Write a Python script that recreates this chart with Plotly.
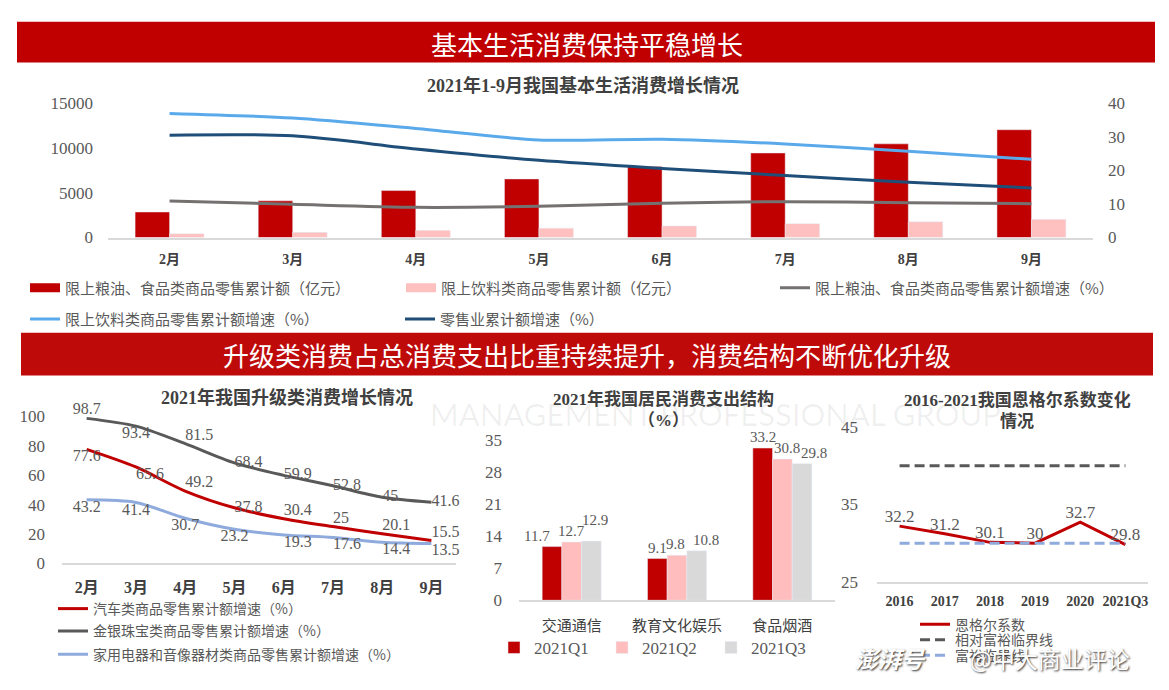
import plotly.graph_objects as go

W, H = 1169, 690
def fx(p):
    return p / W
def fy(p):
    return 1 - p / H

SERIF = "Liberation Serif, Noto Sans CJK SC, serif"
CJK = "Noto Sans CJK SC, sans-serif"
GREY_T = "#595959"
DARK_T = "#404040"
RED = "#C00000"

# ---------------- data ----------------
months = ["2月", "3月", "4月", "5月", "6月", "7月", "8月", "9月"]
grain_sales = [2850, 4100, 5250, 6550, 7950, 9450, 10470, 12050]
drink_sales = [420, 580, 800, 1050, 1300, 1550, 1750, 2030]
grain_growth = [10.9, 9.9, 9.0, 9.3, 10.2, 10.7, 10.4, 10.1]
drink_growth = [37.0, 35.6, 32.5, 29.1, 29.3, 27.9, 25.7, 23.3]
retail_growth = [30.5, 30.3, 26.4, 23.0, 20.6, 18.5, 16.5, 14.8]

auto_growth = [77.6, 65.6, 49.2, 37.8, 30.4, 25, 20.1, 15.5]
jewel_growth = [98.7, 93.4, 81.5, 68.4, 59.9, 52.8, 45, 41.6]
appliance_growth = [43.2, 41.4, 30.7, 23.2, 19.3, 17.6, 14.4, 13.5]

spend_cats = ["交通通信", "教育文化娱乐", "食品烟酒"]
spend_q1 = [11.7, 9.1, 33.2]
spend_q2 = [12.7, 9.8, 30.8]
spend_q3 = [12.9, 10.8, 29.8]

engel_years = ["2016", "2017", "2018", "2019", "2020", "2021Q3"]
engel_coef = [32.2, 31.2, 30.1, 30, 32.7, 29.8]
relative_rich_line = [40, 40, 40, 40, 40, 40]
rich_line = [30, 30, 30, 30, 30, 30]

fig = go.Figure()

# ---------------- top chart ----------------
fig.add_bar(x=months, y=grain_sales, marker_color=RED, xaxis="x", yaxis="y",
            showlegend=False, name="限上粮油、食品类商品零售累计额（亿元）")
fig.add_bar(x=months, y=drink_sales, marker_color="#FFC0C0", xaxis="x", yaxis="y",
            showlegend=False, name="限上饮料类商品零售累计额（亿元）")
# legend entries for the bar series (rectangular symbols)
fig.add_scatter(x=[None], y=[None], mode="lines", line=dict(color=RED, width=9),
                name="限上粮油、食品类商品零售累计额（亿元）", xaxis="x", yaxis="y", legend="legend")
fig.add_scatter(x=[None], y=[None], mode="lines", line=dict(color="#FFC0C0", width=9),
                name="限上饮料类商品零售累计额（亿元）", xaxis="x", yaxis="y", legend="legend2")

fig.add_scatter(x=months, y=grain_growth, mode="lines", xaxis="x", yaxis="y2",
                line=dict(color="#767171", width=3, shape="spline", smoothing=0.8),
                name="限上粮油、食品类商品零售累计额增速（%）", legend="legend3")
fig.add_scatter(x=months, y=drink_growth, mode="lines", xaxis="x", yaxis="y2",
                line=dict(color="#5AAAEB", width=3, shape="spline", smoothing=0.8),
                name="限上饮料类商品零售累计额增速（%）", legend="legend4")
fig.add_scatter(x=months, y=retail_growth, mode="lines", xaxis="x", yaxis="y2",
                line=dict(color="#1F4E79", width=3, shape="spline", smoothing=0.8),
                name="零售业累计额增速（%）", legend="legend5")

# ---------------- bottom-left chart ----------------
lbl_font = dict(family=SERIF, size=16, color=GREY_T)
fig.add_scatter(x=months, y=auto_growth, mode="lines+text", xaxis="x3", yaxis="y3",
                text=[str(v) for v in auto_growth], cliponaxis=False,
                textposition=["bottom center", "bottom right", "top right", "middle right",
                              "top right", "top right", "top right", "top right"],
                textfont=lbl_font,
                line=dict(color=RED, width=3, shape="spline", smoothing=0.8),
                name="汽车类商品零售累计额增速（%）", legend="legend6")
fig.add_scatter(x=months, y=jewel_growth, mode="lines+text", xaxis="x3", yaxis="y3",
                text=[str(v) for v in jewel_growth], cliponaxis=False,
                textposition=["top center", "bottom center", "top right", "middle right",
                              "middle right", "middle right", "middle right", "middle right"],
                textfont=lbl_font,
                line=dict(color="#595959", width=3, shape="spline", smoothing=0.8),
                name="金银珠宝类商品零售累计额增速（%）", legend="legend7")
fig.add_scatter(x=months, y=appliance_growth, mode="lines+text", xaxis="x3", yaxis="y3",
                text=[str(v) for v in appliance_growth], cliponaxis=False,
                textposition=["bottom center", "bottom center", "bottom center", "bottom center",
                              "bottom right", "bottom right", "bottom right", "bottom right"],
                textfont=lbl_font,
                line=dict(color="#8FAADC", width=3, shape="spline", smoothing=0.8),
                name="家用电器和音像器材类商品零售累计额增速（%）", legend="legend8")

# ---------------- bottom-middle chart ----------------
BARGAP = 0.44
spend_series = [(spend_q1, RED, "2021Q1", "legend9"),
                (spend_q2, "#FFBDBD", "2021Q2", "legend10"),
                (spend_q3, "#D9D9D9", "2021Q3", "legend11")]
for vals, col, nm, lg in spend_series:
    fig.add_bar(x=spend_cats, y=vals, marker_color=col, xaxis="x4", yaxis="y4",
                name=nm, legend=lg)

# value labels for the grouped bars, placed through the axis (label nudges in px)
label_nudge = [  # (xshift, yshift) per series, per category
    [(-15, 0), (0, 0), (0, 0)],
    [(0, 0), (-2, 0), (5, 0)],
    [(4, 10), (9, 0), (12, 0)],
]
bar_w = (1 - BARGAP) / len(spend_series)
mid_annotations = []
for si, (vals, col, nm, lg) in enumerate(spend_series):
    off = (si - (len(spend_series) - 1) / 2) * bar_w
    for ci, v in enumerate(vals):
        dx, dy = label_nudge[si][ci]
        mid_annotations.append(dict(
            x=ci + off, y=v, xref="x4", yref="y4", text=str(v), showarrow=False,
            xanchor="center", yanchor="bottom", xshift=dx, yshift=dy + 1,
            font=dict(family=SERIF, size=15, color=GREY_T)))

# ---------------- bottom-right chart ----------------
fig.add_scatter(x=engel_years, y=engel_coef, mode="lines+text", xaxis="x5", yaxis="y5",
                text=[str(v) for v in engel_coef], textposition="top center", cliponaxis=False,
                textfont=dict(family=SERIF, size=17, color=GREY_T),
                line=dict(color=RED, width=3),
                name="恩格尔系数", legend="legend12")
fig.add_scatter(x=engel_years, y=relative_rich_line, mode="lines", xaxis="x5", yaxis="y5",
                line=dict(color="#595959", width=3, dash="10px,5px"),
                name="相对富裕临界线", legend="legend13")
fig.add_scatter(x=engel_years, y=rich_line, mode="lines", xaxis="x5", yaxis="y5",
                line=dict(color="#8FAADC", width=3, dash="10px,5px"),
                name="富裕临界线", legend="legend14")

# ---------------- axes ----------------
tick_font = dict(family=SERIF, size=17, color=GREY_T)
cat_font_bold = dict(family=SERIF, size=14, color=DARK_T, weight="bold")

def xcat(domain, anchor, font, standoff, rng):
    return dict(domain=domain, anchor=anchor, type="category", showgrid=False, zeroline=False,
                showline=True, linecolor="#D9D9D9", linewidth=1.5, ticks="",
                tickfont=font, ticklabelstandoff=standoff, range=rng, fixedrange=True)

def yval(domain, anchor, rng, tickvals, standoff, side="left", overlaying=None):
    d = dict(domain=domain, anchor=anchor, range=rng, tickvals=tickvals, tickformat="d",
             showgrid=False, zeroline=False, showline=False, ticks="", tickfont=tick_font,
             ticklabelstandoff=standoff, side=side, fixedrange=True)
    if overlaying:
        d["overlaying"] = overlaying
    return d

layout = dict(
    width=W, height=H, margin=dict(l=0, r=0, t=0, b=0),
    paper_bgcolor="white", plot_bgcolor="rgba(0,0,0,0)",
    barmode="group", bargap=BARGAP, bargroupgap=0,
    font=dict(family=CJK, color=GREY_T),
    xaxis=xcat([fx(108), fx(1093)], "y", cat_font_bold, 8, [-0.5, 7.5]),
    yaxis=yval([fy(235), fy(97)], "x", [0, 15000], [0, 5000, 10000, 15000], 14),
    yaxis2=yval([fy(235), fy(97)], "x", [0, 40], [0, 10, 20, 30, 40], 14,
                side="right", overlaying="y"),
    xaxis3=xcat([fx(62), fx(456)], "y3", dict(family=SERIF, size=16, color=DARK_T, weight="bold"),
                9, [-0.5, 7.5]),
    yaxis3=yval([fy(570), fy(419)], "x3", [0, 100], [0, 20, 40, 60, 80, 100], 16),
    xaxis4=xcat([fx(519), fx(835)], "y4", dict(family=CJK, size=15, color=DARK_T), 11,
                [-0.5, 2.5]),
    yaxis4=yval([fy(608), fy(443)], "x4", [0, 35], [0, 7, 14, 21, 28, 35], 16),
    xaxis5=xcat([fx(877), fx(1148)], "y5", dict(family=SERIF, size=14, color=DARK_T, weight="bold"),
                6, [-0.5, 5.5]),
    yaxis5=yval([fy(589), fy(430)], "x5", [25, 45], [25, 35, 45], 18),
)

# legends: (key, symbol start x, center y, font size, font family)
legend_pos = [
    ("legend", 30, 287, 15, CJK), ("legend2", 406, 287, 15, CJK), ("legend3", 780, 287, 15, CJK),
    ("legend4", 30, 319, 15, CJK), ("legend5", 405, 319, 15, CJK),
    ("legend6", 58, 617, 14, CJK), ("legend7", 58, 640, 14, CJK), ("legend8", 58, 664, 14, CJK),
    ("legend9", 499, 657, 17, SERIF), ("legend10", 607, 657, 17, SERIF), ("legend11", 716, 657, 17, SERIF),
    ("legend12", 920, 633, 14, CJK), ("legend13", 920, 649, 14, CJK), ("legend14", 920, 665, 14, CJK),
]
for key, xs, yc, fs, fam in legend_pos:
    layout[key] = dict(x=fx(xs - 5), y=fy(yc), xanchor="left", yanchor="middle",
                       orientation="h", bgcolor="rgba(0,0,0,0)", borderwidth=0,
                       font=dict(family=fam, size=fs, color=GREY_T), itemwidth=30)

# banners
layout["shapes"] = [
    dict(type="rect", xref="paper", yref="paper", x0=fx(17), x1=fx(1155), y0=fy(55), y1=fy(13),
         fillcolor=RED, line=dict(width=0), layer="below"),
    dict(type="rect", xref="paper", yref="paper", x0=fx(21), x1=fx(1153), y0=fy(377), y1=fy(333),
         fillcolor="#BF0A0A", line=dict(width=0), layer="below"),
]

def ann(text, x, y, size, color=DARK_T, family=CJK, bold=False):
    f = dict(family=family, size=size, color=color)
    if bold:
        f["weight"] = "bold"
    return dict(text=text, x=fx(x), y=fy(y), xref="paper", yref="paper", showarrow=False,
                xanchor="center", yanchor="middle", font=f)

annotations = [
    ann("MANAGEMENT PROFESSIONAL GROUP", 715, 416, 31, color="rgba(0,0,0,0.06)", family="Lato"),
    ann("基本生活消费保持平稳增长", 587, 35, 26, color="white"),
    ann("2021年1-9月我国基本生活消费增长情况", 583, 79, 18, family=SERIF, bold=True),
    ann("升级类消费占总消费支出比重持续提升，消费结构不断优化升级", 587, 355, 26, color="white"),
    ann("2021年我国升级类消费增长情况", 287, 399, 18, family=SERIF, bold=True),
    ann("2021年我国居民消费支出结构", 663, 401, 17, family=SERIF, bold=True),
    ann("（%）", 663, 423, 17, family=SERIF, bold=True),
    ann("2016-2021我国恩格尔系数变化", 1017, 402, 17, family=SERIF, bold=True),
    ann("情况", 1017, 424, 17, family=SERIF, bold=True),
]
annotations += mid_annotations
wm1 = ann("澎湃号", 891, 667, 23, color="white", bold=True)
wm1["font"]["style"] = "italic"
wm2 = ann("@中大商业评论", 1050, 667, 23, color="white")
for a in (wm1, wm2):
    a["font"]["shadow"] = "1px 1px 2px #333333"
annotations += [wm1, wm2]
layout["annotations"] = annotations

fig.update_layout(**layout)
fig.write_html("out.html")
